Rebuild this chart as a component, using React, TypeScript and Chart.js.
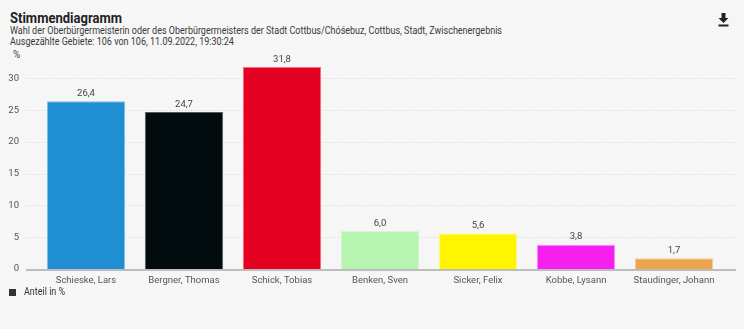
import React, { useEffect, useRef } from "react";
import { Chart, registerables } from "chart.js";

Chart.register(...registerables);

const categories = [
  "Schieske, Lars",
  "Bergner, Thomas",
  "Schick, Tobias",
  "Benken, Sven",
  "Sicker, Felix",
  "Kobbe, Lysann",
  "Staudinger, Johann",
];
const values = [26.4, 24.7, 31.8, 6.0, 5.6, 3.8, 1.7];
const barColors = ["#1f8fd1", "#020c0f", "#e30020", "#b5f5b0", "#fff500", "#f520f0", "#eba54f"];
const borderColors = ["#7fc0e8", "#555d5f", "#f07080", "#d4f8d0", "#fffa80", "#f890f5", "#f5cf9e"];
const yTicks = [0, 5, 10, 15, 20, 25, 30];
const titleText = "Stimmendiagramm";
const subtitleLines = [
  "Wahl der Oberbürgermeisterin oder des Oberbürgermeisters der Stadt Cottbus/Chóśebuz, Cottbus, Stadt, Zwischenergebnis",
  "Ausgezählte Gebiete: 106 von 106, 11.09.2022, 19:30:24",
];
const legendLabel = "Anteil in %";
const yUnit = "%";

const FONT = "Roboto, 'Noto Sans', sans-serif";

const fmt = (v: number) => v.toFixed(1).replace(".", ",");

const decorPlugin = {
  id: "decor",
  beforeDatasetsDraw(chart: any) {
    const { ctx, chartArea, scales } = chart;
    const y = scales.y;
    const left = chartArea.left - 11;
    const right = chartArea.right + 13;
    ctx.save();
    ctx.strokeStyle = "#d6d6d6";
    ctx.lineWidth = 1;
    ctx.setLineDash([1, 2]);
    yTicks.forEach((t) => {
      if (t === 0) return;
      const py = Math.round(y.getPixelForValue(t)) + 0.5;
      ctx.beginPath();
      ctx.moveTo(left, py);
      ctx.lineTo(right, py);
      ctx.stroke();
    });
    ctx.restore();
  },
  afterDatasetsDraw(chart: any) {
    const { ctx, chartArea, scales } = chart;
    const y = scales.y;
    const left = chartArea.left - 11;
    const right = chartArea.right + 13;
    ctx.save();
    ctx.strokeStyle = "#bdbdbd";
    ctx.lineWidth = 2;
    const py = y.getPixelForValue(0) + 1;
    ctx.beginPath();
    ctx.moveTo(left, py);
    ctx.lineTo(right, py);
    ctx.stroke();
    const meta = chart.getDatasetMeta(0);
    ctx.fillStyle = "#444";
    ctx.font = `9.5px ${FONT}`;
    ctx.textAlign = "center";
    ctx.textBaseline = "bottom";
    meta.data.forEach((bar: any, i: number) => {
      ctx.fillText(fmt(values[i]), bar.x, bar.y - 3);
    });
    ctx.restore();
  },
};

const condensed = (s: number): React.CSSProperties => ({
  transform: `scaleX(${s})`,
  transformOrigin: "left top",
  whiteSpace: "nowrap",
});

export default function App() {
  const ref = useRef<HTMLCanvasElement>(null);
  useEffect(() => {
    document.body.style.margin = "0";
    const chart = new Chart(ref.current!, {
      type: "bar",
      data: {
        labels: categories,
        datasets: [
          {
            label: legendLabel,
            data: values,
            backgroundColor: barColors,
            borderColor: borderColors,
            borderWidth: 1,
            barPercentage: 0.8,
            categoryPercentage: 1,
          },
        ],
      },
      options: {
        animation: false,
        responsive: false,
        maintainAspectRatio: false,
        layout: { padding: { left: 0, right: 21, top: 53, bottom: 40 } },
        plugins: { legend: { display: false }, tooltip: { enabled: false }, title: { display: false } },
        scales: {
          x: {
            grid: { display: false, drawTicks: false },
            border: { display: false },
            ticks: { color: "#555", font: { family: FONT, size: 9.5 }, padding: 6, maxRotation: 0, autoSkip: false },
            afterFit: (s: any) => {
              s.height = 20;
            },
          },
          y: {
            min: 0,
            max: 34,
            grid: { display: false, drawTicks: false },
            border: { display: false },
            afterBuildTicks: (s: any) => {
              s.ticks = yTicks.map((v) => ({ value: v }));
            },
            ticks: { color: "#555", font: { family: FONT, size: 9.5 }, padding: 18 },
            afterFit: (s: any) => {
              s.width = 37;
            },
          },
        },
      },
      plugins: [decorPlugin],
    });
    return () => chart.destroy();
  }, []);

  return (
    <div style={{ position: "relative", width: 744, height: 329, background: "#f6f6f6", fontFamily: FONT, overflow: "hidden" }}>
      <div style={{ position: "absolute", left: 10, top: 10, fontSize: 14, fontWeight: 700, color: "#222", lineHeight: "16px", ...condensed(0.93) }}>{titleText}</div>
      <div style={{ position: "absolute", left: 10, top: 25, fontSize: 10, color: "#3a3a3a", lineHeight: "11px", ...condensed(0.9) }}>
        {subtitleLines.map((l, i) => (
          <div key={i}>{l}</div>
        ))}
      </div>
      <svg style={{ position: "absolute", left: 718, top: 13 }} width="11" height="14" viewBox="0 0 11 14">
        <path d="M3.5 0 H7.5 V5 H10.5 L5.5 10 L0.5 5 H3.5 Z" fill="#222" />
        <rect x="0.5" y="11.5" width="10" height="2" fill="#222" />
      </svg>
      <div style={{ position: "absolute", left: 13, top: 49, fontSize: 10, color: "#444" }}>{yUnit}</div>
      <canvas ref={ref} width={744} height={329} style={{ position: "absolute", left: 0, top: 0 }} />
      <div style={{ position: "absolute", left: 9, top: 289, width: 7, height: 7, background: "#333" }} />
      <div style={{ position: "absolute", left: 24, top: 286, fontSize: 10, color: "#333", lineHeight: "12px", ...condensed(0.9) }}>{legendLabel}</div>
    </div>
  );
}
